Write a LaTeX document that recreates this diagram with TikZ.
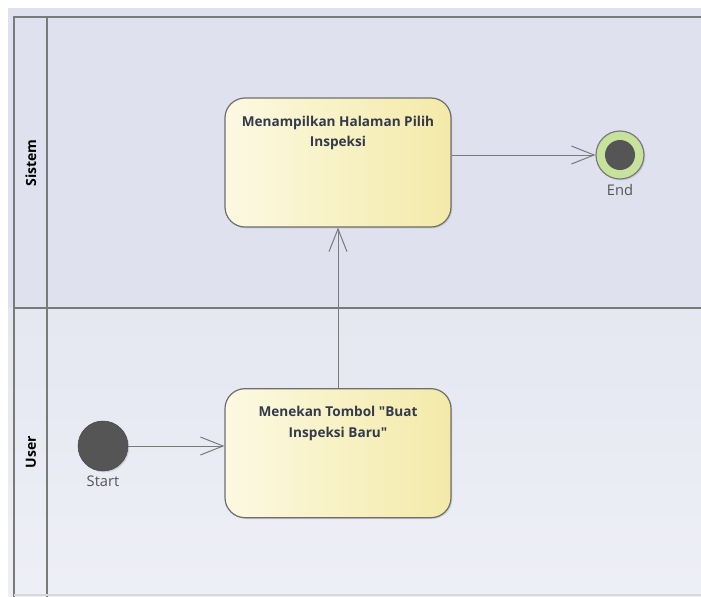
\documentclass[tikz,border=0pt]{standalone}
\usepackage{fontspec}
\newfontfamily\diafont{Open Sans}
\usetikzlibrary{arrows.meta, positioning, shadows}

\definecolor{lanetop}{HTML}{DFE1EE}
\definecolor{lanelow}{HTML}{E5E7F1}
\definecolor{lanebottom}{HTML}{EEEFF6}
\definecolor{frameline}{HTML}{7A7A7A}
\definecolor{boxleft}{HTML}{FCF9E2}
\definecolor{boxright}{HTML}{F3EAA8}
\definecolor{boxline}{HTML}{6E6E6E}
\definecolor{boxtext}{HTML}{333A4A}
\definecolor{dot}{HTML}{555555}
\definecolor{ring}{HTML}{C6E29C}

\begin{document}
\begin{tikzpicture}[
            x = 0.75pt, y = -0.75pt, % one unit is one pixel
            > = {Straight Barb[length=17pt, width=13.5pt]}, % open arrow head
            node distance = 218pt, % distance between the two actions
            font = \diafont
        ]

        \tikzstyle{lane}=[draw = frameline, line width = 1.5pt]
        \tikzstyle{lanename}=[rotate = 90, font = \diafont\bfseries\fontsize{10.5}{12}\selectfont]
        \tikzstyle{action}=[
            draw = boxline,
            line width = 0.9pt,
            rounded corners = 15pt,
            left color = boxleft,
            right color = boxright,
            minimum width = 169.5pt,
            minimum height = 96.75pt,
            drop shadow = {shadow xshift = 1pt, shadow yshift = -1pt, opacity = 0.25}
        ]
        \tikzstyle{actiontext}=[
            anchor = north,
            yshift = -13.5pt,
            inner sep = 0pt,
            align = center,
            text = boxtext,
            font = \diafont\bfseries\fontsize{10.2}{15.5}\selectfont
        ]
        \tikzstyle{point}=[
            circle,
            inner sep = 0pt,
            drop shadow = {shadow xshift = 1pt, shadow yshift = -1pt, opacity = 0.25}
        ]
        \tikzstyle{pointname}=[
            inner sep = 1pt,
            label distance = 2pt,
            text = dot,
            font = \diafont\fontsize{11}{13}\selectfont
        ]
        \tikzstyle{flow}=[->, draw = frameline, line width = 0.75pt]

        \useasboundingbox (0,0) rectangle (701,597);

        % lanes
        \fill[lanetop] (8,8) rectangle (701,308);
        \shade[top color = lanelow, bottom color = lanebottom] (8,308) rectangle (701,597);
        \draw[lane] (701,17) -- (14,17) -- (14,597);
        \draw[lane] (47,17) -- (47,597);
        \draw[lane] (14,308) -- (701,308);
        \draw[lane, draw = frameline!30] (14,595) -- (701,595);

        \node[lanename] (sistem) at (31,163) {Sistem};
        \node[lanename] (user) at (31,452) {User};

        % nodes
        \node[action] (act1) at (338,162.5) {};
        \node[action] (act2) [below of=act1] {};
        \node (act1text) [actiontext] at (act1.north) {Menampilkan Halaman Pilih\\Inspeksi};
        \node (act2text) [actiontext] at (act2.north) {Menekan Tombol "Buat\\Inspeksi Baru"};

        \node[point, fill = dot, draw = dot!85!black, minimum size = 37.5pt,
              label = {[pointname]below:Start}] (start) at (103,446) {};
        \node[point, fill = ring, draw = frameline, line width = 0.9pt, minimum size = 36pt,
              label = {[pointname]below:End}] (end) at (620,155) {};
        \node[circle, fill = dot, inner sep = 0pt, minimum size = 22.5pt] (enddot) at (end) {};

        % connectors
        \draw[flow] (start) -- (start -| act2.west);
        \draw[flow] (act2) -- (act1);
        \draw[flow] (act1.east |- end) -- (end);

    \end{tikzpicture}
\end{document}
